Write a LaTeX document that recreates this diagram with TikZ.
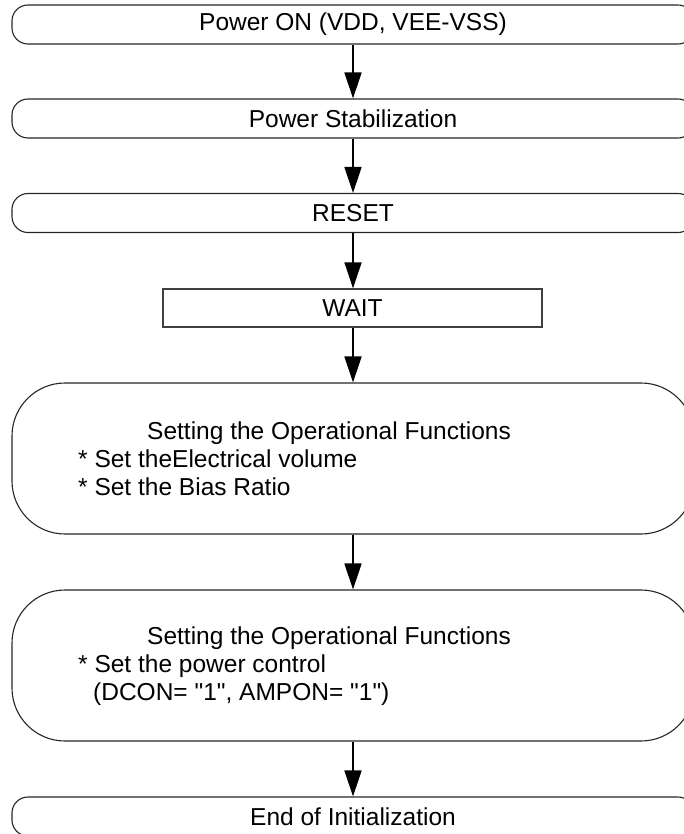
\documentclass[tikz,border=0pt]{standalone}
\usepackage{fontspec}
\setmainfont{Liberation Sans}[Ligatures=TeXOff]
\usetikzlibrary{arrows.meta}
\begin{document}
\begin{tikzpicture}[x=1pt,y=-1pt,
  lbl/.style={font=\fontsize{24.5}{28}\selectfont, inner sep=0pt},
  termbox/.style={draw=black!85, line width=1.1pt, rectangle, rounded corners=16pt,
    minimum width=682pt, minimum height=39pt, inner sep=0pt, lbl},
  procbox/.style={draw=black!85, line width=1.1pt, rectangle, rounded corners=53pt,
    minimum width=682pt, minimum height=151pt, inner sep=0pt},
  waitbox/.style={draw=black!75, line width=1.3pt, rectangle,
    minimum width=379pt, minimum height=38pt, inner sep=0pt, lbl},
  flow/.style={-{Triangle[length=26pt,width=17pt]}, line width=1.7pt, black}
]
\useasboundingbox (0,0) rectangle (684,834);

% terminal and process steps, top to bottom
\node[termbox] (pwr)   at (353,24.5)  {Power ON (VDD, VEE-VSS)};
\node[termbox] (stab)  at (353,118.5) {Power Stabilization};
\node[termbox] (rst)   at (353,213)   {RESET};
\node[waitbox] (wait)  at (352.5,308) {WAIT};
\node[procbox] (opA)   at (353,458.5) {};
\node[procbox] (opB)   at (353,665.5) {};
\node[termbox] (done)  at (353,816.5) {End of Initialization};

% texts of the two setting steps
\node[lbl, anchor=west, align=left] (opAtxt) at (78,459)
  {\hspace*{69pt}Setting the Operational Functions\\{}* Set theElectrical volume\\{}* Set the Bias Ratio};
\node[lbl, anchor=west, align=left] (opBtxt) at (78,666)
  {\hspace*{69pt}Setting the Operational Functions\\{}* Set the power control\\\hspace*{15pt}(DCON= "1", AMPON= "1")};

% flow arrows
\draw[flow] (pwr.south)  -- (stab.north);
\draw[flow] (stab.south) -- (rst.north);
\draw[flow] (rst.south)  -- (rst.south |- wait.north);
\draw[flow] (rst.south |- wait.south) -- (opA.north);
\draw[flow] (opA.south)  -- (opB.north);
\draw[flow] (opB.south)  -- (done.north);
\end{tikzpicture}
\end{document}
